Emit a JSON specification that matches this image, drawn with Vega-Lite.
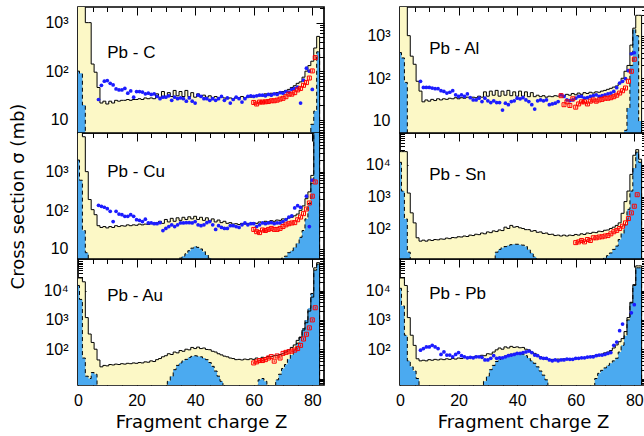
{
"$schema":"https://vega.github.io/schema/vega-lite/v6.json",
"padding":{"left":9,"top":5,"right":0,"bottom":0},
"config":{
 "view":{"stroke":"black","strokeWidth":1.7},
 "axis":{"grid":false,"domain":false,"tickColor":"black","tickWidth":1,"labelColor":"black","labelFont":"Liberation Sans","titleFont":"DejaVu Sans","titleColor":"black","titleFontWeight":"normal","labelFlush":false,"labelOverlap":false}
},
"datasets":{
"yC":[{"Z":0,"v":20000},{"Z":1,"v":20000},{"Z":2,"v":5000},{"Z":3,"v":1000},{"Z":4,"v":1000},{"Z":5,"v":140},{"Z":6,"v":95},{"Z":7,"v":46},{"Z":8,"v":22},{"Z":9,"v":24},{"Z":10,"v":21},{"Z":11,"v":24},{"Z":12,"v":22},{"Z":13,"v":25},{"Z":14,"v":24},{"Z":15,"v":25},{"Z":16,"v":25},{"Z":17,"v":26},{"Z":18,"v":25},{"Z":19,"v":26},{"Z":20,"v":26},{"Z":21,"v":27},{"Z":22,"v":26},{"Z":23,"v":28},{"Z":24,"v":27},{"Z":25,"v":28},{"Z":26,"v":27},{"Z":27,"v":34},{"Z":28,"v":29},{"Z":29,"v":38},{"Z":30,"v":30},{"Z":31,"v":36},{"Z":32,"v":30},{"Z":33,"v":40},{"Z":34,"v":31},{"Z":35,"v":38},{"Z":36,"v":30},{"Z":37,"v":40},{"Z":38,"v":30},{"Z":39,"v":36},{"Z":40,"v":29},{"Z":41,"v":34},{"Z":42,"v":30},{"Z":43,"v":32},{"Z":44,"v":29},{"Z":45,"v":31},{"Z":46,"v":28},{"Z":47,"v":30},{"Z":48,"v":28},{"Z":49,"v":29},{"Z":50,"v":28},{"Z":51,"v":27},{"Z":52,"v":28},{"Z":53,"v":27},{"Z":54,"v":29},{"Z":55,"v":28},{"Z":56,"v":30},{"Z":57,"v":28},{"Z":58,"v":30},{"Z":59,"v":29},{"Z":60,"v":31},{"Z":61,"v":30},{"Z":62,"v":33},{"Z":63,"v":31},{"Z":64,"v":34},{"Z":65,"v":32},{"Z":66,"v":35},{"Z":67,"v":34},{"Z":68,"v":36},{"Z":69,"v":35},{"Z":70,"v":38},{"Z":71,"v":40},{"Z":72,"v":42},{"Z":73,"v":46},{"Z":74,"v":50},{"Z":75,"v":56},{"Z":76,"v":60},{"Z":77,"v":75},{"Z":78,"v":100},{"Z":79,"v":130},{"Z":80,"v":160},{"Z":81,"v":300},{"Z":82,"v":520},{"Z":83,"v":0.01}],
"yAl":[{"Z":0,"v":20000},{"Z":1,"v":20000},{"Z":2,"v":6000},{"Z":3,"v":1000},{"Z":4,"v":330},{"Z":5,"v":213},{"Z":6,"v":85},{"Z":7,"v":50},{"Z":8,"v":28},{"Z":9,"v":31},{"Z":10,"v":29},{"Z":11,"v":32},{"Z":12,"v":30},{"Z":13,"v":33},{"Z":14,"v":31},{"Z":15,"v":33},{"Z":16,"v":32},{"Z":17,"v":34},{"Z":18,"v":33},{"Z":19,"v":35},{"Z":20,"v":33},{"Z":21,"v":35},{"Z":22,"v":34},{"Z":23,"v":36},{"Z":24,"v":35},{"Z":25,"v":36},{"Z":26,"v":35},{"Z":27,"v":38},{"Z":28,"v":36},{"Z":29,"v":48},{"Z":30,"v":38},{"Z":31,"v":50},{"Z":32,"v":40},{"Z":33,"v":52},{"Z":34,"v":38},{"Z":35,"v":50},{"Z":36,"v":40},{"Z":37,"v":52},{"Z":38,"v":39},{"Z":39,"v":48},{"Z":40,"v":38},{"Z":41,"v":50},{"Z":42,"v":38},{"Z":43,"v":48},{"Z":44,"v":37},{"Z":45,"v":46},{"Z":46,"v":37},{"Z":47,"v":40},{"Z":48,"v":37},{"Z":49,"v":39},{"Z":50,"v":36},{"Z":51,"v":38},{"Z":52,"v":37},{"Z":53,"v":39},{"Z":54,"v":38},{"Z":55,"v":40},{"Z":56,"v":39},{"Z":57,"v":42},{"Z":58,"v":40},{"Z":59,"v":44},{"Z":60,"v":41},{"Z":61,"v":45},{"Z":62,"v":42},{"Z":63,"v":46},{"Z":64,"v":44},{"Z":65,"v":47},{"Z":66,"v":45},{"Z":67,"v":48},{"Z":68,"v":47},{"Z":69,"v":50},{"Z":70,"v":52},{"Z":71,"v":55},{"Z":72,"v":58},{"Z":73,"v":62},{"Z":74,"v":66},{"Z":75,"v":77},{"Z":76,"v":100},{"Z":77,"v":146},{"Z":78,"v":200},{"Z":79,"v":600},{"Z":80,"v":1500},{"Z":81,"v":3000},{"Z":82,"v":3000},{"Z":83,"v":0.01}],
"yCu":[{"Z":0,"v":20000},{"Z":1,"v":20000},{"Z":2,"v":8000},{"Z":3,"v":1000},{"Z":4,"v":190},{"Z":5,"v":104},{"Z":6,"v":77},{"Z":7,"v":40},{"Z":8,"v":36},{"Z":9,"v":38},{"Z":10,"v":35},{"Z":11,"v":38},{"Z":12,"v":36},{"Z":13,"v":40},{"Z":14,"v":38},{"Z":15,"v":40},{"Z":16,"v":39},{"Z":17,"v":42},{"Z":18,"v":40},{"Z":19,"v":42},{"Z":20,"v":41},{"Z":21,"v":44},{"Z":22,"v":42},{"Z":23,"v":44},{"Z":24,"v":43},{"Z":25,"v":46},{"Z":26,"v":44},{"Z":27,"v":48},{"Z":28,"v":52},{"Z":29,"v":46},{"Z":30,"v":58},{"Z":31,"v":50},{"Z":32,"v":62},{"Z":33,"v":52},{"Z":34,"v":64},{"Z":35,"v":55},{"Z":36,"v":66},{"Z":37,"v":58},{"Z":38,"v":68},{"Z":39,"v":60},{"Z":40,"v":70},{"Z":41,"v":58},{"Z":42,"v":66},{"Z":43,"v":55},{"Z":44,"v":64},{"Z":45,"v":52},{"Z":46,"v":60},{"Z":47,"v":50},{"Z":48,"v":56},{"Z":49,"v":48},{"Z":50,"v":52},{"Z":51,"v":46},{"Z":52,"v":48},{"Z":53,"v":44},{"Z":54,"v":45},{"Z":55,"v":43},{"Z":56,"v":46},{"Z":57,"v":44},{"Z":58,"v":46},{"Z":59,"v":45},{"Z":60,"v":48},{"Z":61,"v":46},{"Z":62,"v":50},{"Z":63,"v":47},{"Z":64,"v":52},{"Z":65,"v":50},{"Z":66,"v":54},{"Z":67,"v":52},{"Z":68,"v":56},{"Z":69,"v":55},{"Z":70,"v":60},{"Z":71,"v":58},{"Z":72,"v":64},{"Z":73,"v":66},{"Z":74,"v":72},{"Z":75,"v":80},{"Z":76,"v":100},{"Z":77,"v":130},{"Z":78,"v":200},{"Z":79,"v":300},{"Z":80,"v":800},{"Z":81,"v":30000},{"Z":82,"v":30000},{"Z":83,"v":0.01}],
"ySn":[{"Z":0,"v":26000},{"Z":1,"v":26000},{"Z":2,"v":26000},{"Z":3,"v":1300},{"Z":4,"v":310},{"Z":5,"v":150},{"Z":6,"v":51},{"Z":7,"v":40},{"Z":8,"v":43},{"Z":9,"v":40},{"Z":10,"v":44},{"Z":11,"v":42},{"Z":12,"v":45},{"Z":13,"v":44},{"Z":14,"v":47},{"Z":15,"v":46},{"Z":16,"v":50},{"Z":17,"v":48},{"Z":18,"v":52},{"Z":19,"v":51},{"Z":20,"v":55},{"Z":21,"v":54},{"Z":22,"v":58},{"Z":23,"v":56},{"Z":24,"v":62},{"Z":25,"v":60},{"Z":26,"v":66},{"Z":27,"v":64},{"Z":28,"v":72},{"Z":29,"v":68},{"Z":30,"v":78},{"Z":31,"v":74},{"Z":32,"v":84},{"Z":33,"v":80},{"Z":34,"v":90},{"Z":35,"v":86},{"Z":36,"v":110},{"Z":37,"v":100},{"Z":38,"v":125},{"Z":39,"v":110},{"Z":40,"v":115},{"Z":41,"v":105},{"Z":42,"v":100},{"Z":43,"v":92},{"Z":44,"v":92},{"Z":45,"v":82},{"Z":46,"v":86},{"Z":47,"v":76},{"Z":48,"v":78},{"Z":49,"v":70},{"Z":50,"v":72},{"Z":51,"v":65},{"Z":52,"v":66},{"Z":53,"v":60},{"Z":54,"v":62},{"Z":55,"v":58},{"Z":56,"v":62},{"Z":57,"v":58},{"Z":58,"v":62},{"Z":59,"v":60},{"Z":60,"v":65},{"Z":61,"v":62},{"Z":62,"v":68},{"Z":63,"v":65},{"Z":64,"v":72},{"Z":65,"v":70},{"Z":66,"v":76},{"Z":67,"v":74},{"Z":68,"v":82},{"Z":69,"v":80},{"Z":70,"v":88},{"Z":71,"v":90},{"Z":72,"v":100},{"Z":73,"v":110},{"Z":74,"v":125},{"Z":75,"v":150},{"Z":76,"v":300},{"Z":77,"v":700},{"Z":78,"v":1500},{"Z":79,"v":5000},{"Z":80,"v":20000},{"Z":81,"v":30000},{"Z":82,"v":15000},{"Z":83,"v":0.01}],
"yAu":[{"Z":0,"v":27000},{"Z":1,"v":27000},{"Z":2,"v":20000},{"Z":3,"v":1200},{"Z":4,"v":330},{"Z":5,"v":170},{"Z":6,"v":100},{"Z":7,"v":43},{"Z":8,"v":25},{"Z":9,"v":28},{"Z":10,"v":27},{"Z":11,"v":30},{"Z":12,"v":29},{"Z":13,"v":31},{"Z":14,"v":30},{"Z":15,"v":32},{"Z":16,"v":31},{"Z":17,"v":33},{"Z":18,"v":32},{"Z":19,"v":34},{"Z":20,"v":33},{"Z":21,"v":35},{"Z":22,"v":34},{"Z":23,"v":37},{"Z":24,"v":36},{"Z":25,"v":40},{"Z":26,"v":38},{"Z":27,"v":44},{"Z":28,"v":48},{"Z":29,"v":55},{"Z":30,"v":60},{"Z":31,"v":70},{"Z":32,"v":66},{"Z":33,"v":80},{"Z":34,"v":75},{"Z":35,"v":90},{"Z":36,"v":85},{"Z":37,"v":100},{"Z":38,"v":95},{"Z":39,"v":115},{"Z":40,"v":105},{"Z":41,"v":118},{"Z":42,"v":105},{"Z":43,"v":110},{"Z":44,"v":98},{"Z":45,"v":96},{"Z":46,"v":85},{"Z":47,"v":80},{"Z":48,"v":70},{"Z":49,"v":64},{"Z":50,"v":58},{"Z":51,"v":55},{"Z":52,"v":50},{"Z":53,"v":48},{"Z":54,"v":44},{"Z":55,"v":45},{"Z":56,"v":43},{"Z":57,"v":46},{"Z":58,"v":44},{"Z":59,"v":47},{"Z":60,"v":45},{"Z":61,"v":50},{"Z":62,"v":48},{"Z":63,"v":53},{"Z":64,"v":52},{"Z":65,"v":57},{"Z":66,"v":56},{"Z":67,"v":60},{"Z":68,"v":62},{"Z":69,"v":66},{"Z":70,"v":70},{"Z":71,"v":80},{"Z":72,"v":95},{"Z":73,"v":115},{"Z":74,"v":140},{"Z":75,"v":200},{"Z":76,"v":260},{"Z":77,"v":450},{"Z":78,"v":800},{"Z":79,"v":2000},{"Z":80,"v":6000},{"Z":81,"v":60000},{"Z":82,"v":90000},{"Z":83,"v":0.01}],
"yPb":[{"Z":0,"v":27000},{"Z":1,"v":27000},{"Z":2,"v":15000},{"Z":3,"v":1200},{"Z":4,"v":300},{"Z":5,"v":135},{"Z":6,"v":47},{"Z":7,"v":40},{"Z":8,"v":42},{"Z":9,"v":40},{"Z":10,"v":44},{"Z":11,"v":42},{"Z":12,"v":45},{"Z":13,"v":43},{"Z":14,"v":46},{"Z":15,"v":44},{"Z":16,"v":47},{"Z":17,"v":45},{"Z":18,"v":48},{"Z":19,"v":46},{"Z":20,"v":50},{"Z":21,"v":48},{"Z":22,"v":52},{"Z":23,"v":50},{"Z":24,"v":55},{"Z":25,"v":53},{"Z":26,"v":58},{"Z":27,"v":56},{"Z":28,"v":62},{"Z":29,"v":60},{"Z":30,"v":70},{"Z":31,"v":68},{"Z":32,"v":80},{"Z":33,"v":95},{"Z":34,"v":110},{"Z":35,"v":100},{"Z":36,"v":120},{"Z":37,"v":110},{"Z":38,"v":125},{"Z":39,"v":115},{"Z":40,"v":120},{"Z":41,"v":112},{"Z":42,"v":115},{"Z":43,"v":100},{"Z":44,"v":95},{"Z":45,"v":80},{"Z":46,"v":72},{"Z":47,"v":60},{"Z":48,"v":55},{"Z":49,"v":50},{"Z":50,"v":45},{"Z":51,"v":44},{"Z":52,"v":45},{"Z":53,"v":43},{"Z":54,"v":46},{"Z":55,"v":44},{"Z":56,"v":47},{"Z":57,"v":45},{"Z":58,"v":48},{"Z":59,"v":46},{"Z":60,"v":49},{"Z":61,"v":48},{"Z":62,"v":52},{"Z":63,"v":50},{"Z":64,"v":55},{"Z":65,"v":54},{"Z":66,"v":60},{"Z":67,"v":58},{"Z":68,"v":65},{"Z":69,"v":68},{"Z":70,"v":75},{"Z":71,"v":80},{"Z":72,"v":90},{"Z":73,"v":110},{"Z":74,"v":140},{"Z":75,"v":180},{"Z":76,"v":230},{"Z":77,"v":400},{"Z":78,"v":1200},{"Z":79,"v":4000},{"Z":80,"v":16000},{"Z":81,"v":70000},{"Z":82,"v":70000},{"Z":83,"v":0.01}],
"bC":[{"Z":0,"v":100},{"Z":1,"v":90},{"Z":2,"v":20},{"Z":3,"v":0.01},{"Z":79,"v":0.01},{"Z":80,"v":8},{"Z":81,"v":15},{"Z":82,"v":250},{"Z":83,"v":0.01}],
"bAl":[{"Z":0,"v":400},{"Z":1,"v":300},{"Z":2,"v":80},{"Z":3,"v":0.01},{"Z":76,"v":0.01},{"Z":77,"v":6},{"Z":78,"v":20},{"Z":79,"v":200},{"Z":80,"v":1400},{"Z":81,"v":1000},{"Z":82,"v":10},{"Z":83,"v":0.01}],
"bCu":[{"Z":0,"v":2000},{"Z":1,"v":600},{"Z":2,"v":30},{"Z":3,"v":8},{"Z":4,"v":0.01},{"Z":34,"v":0.01},{"Z":35,"v":5.8},{"Z":36,"v":6.5},{"Z":37,"v":7.5},{"Z":38,"v":9},{"Z":39,"v":10.5},{"Z":40,"v":11.5},{"Z":41,"v":11},{"Z":42,"v":10},{"Z":43,"v":8.5},{"Z":44,"v":7},{"Z":45,"v":5.8},{"Z":46,"v":0.01},{"Z":69,"v":0.01},{"Z":70,"v":5.8},{"Z":71,"v":6.5},{"Z":72,"v":8},{"Z":73,"v":9},{"Z":74,"v":11},{"Z":75,"v":14},{"Z":76,"v":20},{"Z":77,"v":30},{"Z":78,"v":60},{"Z":79,"v":150},{"Z":80,"v":500},{"Z":81,"v":20000},{"Z":82,"v":20000},{"Z":83,"v":0.01}],
"bSn":[{"Z":0,"v":12000},{"Z":1,"v":1500},{"Z":2,"v":200},{"Z":3,"v":18},{"Z":4,"v":0.01},{"Z":32,"v":0.01},{"Z":33,"v":18},{"Z":34,"v":22},{"Z":35,"v":25},{"Z":36,"v":27},{"Z":37,"v":29},{"Z":38,"v":31},{"Z":39,"v":32},{"Z":40,"v":32},{"Z":41,"v":31},{"Z":42,"v":30},{"Z":43,"v":27},{"Z":44,"v":22},{"Z":45,"v":17},{"Z":46,"v":13},{"Z":47,"v":0.01},{"Z":69,"v":0.01},{"Z":70,"v":12},{"Z":71,"v":14},{"Z":72,"v":17},{"Z":73,"v":22},{"Z":74,"v":28},{"Z":75,"v":45},{"Z":76,"v":70},{"Z":77,"v":130},{"Z":78,"v":400},{"Z":79,"v":1500},{"Z":80,"v":8000},{"Z":81,"v":25000},{"Z":82,"v":12000},{"Z":83,"v":0.01}],
"bAu":[{"Z":0,"v":15000},{"Z":1,"v":5000},{"Z":2,"v":50},{"Z":3,"v":12},{"Z":4,"v":10},{"Z":5,"v":16},{"Z":6,"v":14},{"Z":7,"v":0.01},{"Z":30,"v":0.01},{"Z":31,"v":8},{"Z":32,"v":12},{"Z":33,"v":20},{"Z":34,"v":28},{"Z":35,"v":34},{"Z":36,"v":40},{"Z":37,"v":45},{"Z":38,"v":52},{"Z":39,"v":57},{"Z":40,"v":60},{"Z":41,"v":58},{"Z":42,"v":55},{"Z":43,"v":50},{"Z":44,"v":44},{"Z":45,"v":35},{"Z":46,"v":26},{"Z":47,"v":18},{"Z":48,"v":12},{"Z":49,"v":8},{"Z":50,"v":0.01},{"Z":61,"v":0.01},{"Z":62,"v":9},{"Z":63,"v":10},{"Z":64,"v":8},{"Z":65,"v":0.01},{"Z":67,"v":0.01},{"Z":68,"v":9},{"Z":69,"v":14},{"Z":70,"v":22},{"Z":71,"v":30},{"Z":72,"v":45},{"Z":73,"v":64},{"Z":74,"v":100},{"Z":75,"v":160},{"Z":76,"v":250},{"Z":77,"v":500},{"Z":78,"v":1000},{"Z":79,"v":2500},{"Z":80,"v":8000},{"Z":81,"v":50000},{"Z":82,"v":80000},{"Z":83,"v":0.01}],
"bPb":[{"Z":0,"v":12000},{"Z":1,"v":3000},{"Z":2,"v":300},{"Z":3,"v":40},{"Z":4,"v":25},{"Z":5,"v":18},{"Z":6,"v":10},{"Z":7,"v":0.01},{"Z":28,"v":0.01},{"Z":29,"v":8},{"Z":30,"v":12},{"Z":31,"v":20},{"Z":32,"v":28},{"Z":33,"v":38},{"Z":34,"v":45},{"Z":35,"v":52},{"Z":36,"v":58},{"Z":37,"v":63},{"Z":38,"v":68},{"Z":39,"v":72},{"Z":40,"v":74},{"Z":41,"v":72},{"Z":42,"v":68},{"Z":43,"v":60},{"Z":44,"v":50},{"Z":45,"v":40},{"Z":46,"v":33},{"Z":47,"v":25},{"Z":48,"v":18},{"Z":49,"v":13},{"Z":50,"v":9},{"Z":51,"v":0.01},{"Z":66,"v":0.01},{"Z":67,"v":10},{"Z":68,"v":15},{"Z":69,"v":19},{"Z":70,"v":23},{"Z":71,"v":28},{"Z":72,"v":33},{"Z":73,"v":40},{"Z":74,"v":49},{"Z":75,"v":80},{"Z":76,"v":136},{"Z":77,"v":290},{"Z":78,"v":1000},{"Z":79,"v":3800},{"Z":80,"v":15000},{"Z":81,"v":60000},{"Z":82,"v":60000},{"Z":83,"v":0.01}],
"dC":[{"Z":7,"v":26},{"Z":8,"v":51},{"Z":9,"v":62},{"Z":10,"v":64},{"Z":11,"v":56},{"Z":12,"v":52},{"Z":13,"v":43},{"Z":14,"v":41},{"Z":15,"v":41},{"Z":16,"v":44},{"Z":17,"v":35},{"Z":18,"v":39},{"Z":19,"v":29},{"Z":20,"v":38},{"Z":21,"v":38},{"Z":22,"v":37},{"Z":23,"v":34},{"Z":24,"v":35},{"Z":25,"v":33},{"Z":26,"v":34},{"Z":27,"v":30},{"Z":28,"v":27},{"Z":29,"v":29},{"Z":30,"v":29},{"Z":31,"v":31},{"Z":32,"v":25},{"Z":33,"v":29},{"Z":34,"v":27},{"Z":35,"v":28},{"Z":36,"v":27},{"Z":37,"v":24},{"Z":38,"v":28},{"Z":39,"v":24},{"Z":40,"v":22},{"Z":41,"v":32},{"Z":42,"v":30},{"Z":43,"v":27},{"Z":44,"v":27},{"Z":45,"v":25},{"Z":46,"v":27},{"Z":47,"v":25},{"Z":48,"v":27},{"Z":49,"v":30},{"Z":50,"v":25},{"Z":51,"v":28},{"Z":52,"v":22},{"Z":53,"v":26},{"Z":54,"v":29},{"Z":55,"v":27},{"Z":56,"v":23},{"Z":57,"v":27},{"Z":58,"v":30},{"Z":59,"v":31},{"Z":60,"v":30},{"Z":61,"v":31},{"Z":62,"v":32},{"Z":63,"v":32},{"Z":64,"v":31},{"Z":65,"v":33},{"Z":66,"v":32},{"Z":67,"v":34},{"Z":68,"v":33},{"Z":69,"v":36},{"Z":70,"v":35},{"Z":71,"v":38},{"Z":72,"v":37},{"Z":73,"v":42},{"Z":74,"v":44},{"Z":75,"v":47},{"Z":76,"v":22},{"Z":77,"v":65},{"Z":78,"v":115},{"Z":79,"v":100},{"Z":80,"v":42}],
"dAl":[{"Z":7,"v":85},{"Z":8,"v":61},{"Z":9,"v":61},{"Z":10,"v":61},{"Z":11,"v":59},{"Z":12,"v":57},{"Z":13,"v":57},{"Z":14,"v":51},{"Z":15,"v":49},{"Z":16,"v":45},{"Z":17,"v":47},{"Z":18,"v":51},{"Z":19,"v":41},{"Z":20,"v":37.5},{"Z":21,"v":41},{"Z":22,"v":37.5},{"Z":23,"v":43},{"Z":24,"v":35},{"Z":25,"v":31},{"Z":26,"v":31},{"Z":27,"v":34},{"Z":28,"v":28.5},{"Z":29,"v":34},{"Z":30,"v":29.6},{"Z":31,"v":27},{"Z":32,"v":29.6},{"Z":33,"v":27},{"Z":34,"v":27},{"Z":35,"v":18},{"Z":36,"v":26},{"Z":37,"v":24},{"Z":38,"v":28.5},{"Z":39,"v":29.6},{"Z":40,"v":34},{"Z":41,"v":33},{"Z":42,"v":35},{"Z":43,"v":31},{"Z":44,"v":28.5},{"Z":45,"v":24},{"Z":46,"v":19},{"Z":47,"v":29.6},{"Z":48,"v":31},{"Z":49,"v":29.6},{"Z":50,"v":31},{"Z":51,"v":24},{"Z":52,"v":25},{"Z":53,"v":26},{"Z":54,"v":28.5},{"Z":55,"v":41},{"Z":56,"v":37.5},{"Z":57,"v":31},{"Z":58,"v":30},{"Z":59,"v":31},{"Z":60,"v":34},{"Z":61,"v":37.5},{"Z":62,"v":37.5},{"Z":63,"v":34},{"Z":64,"v":35},{"Z":65,"v":37.5},{"Z":66,"v":39},{"Z":67,"v":41},{"Z":68,"v":37.5},{"Z":69,"v":39},{"Z":70,"v":41},{"Z":71,"v":43},{"Z":72,"v":45},{"Z":73,"v":49},{"Z":74,"v":60},{"Z":75,"v":77},{"Z":76,"v":85},{"Z":77,"v":98},{"Z":78,"v":151},{"Z":79,"v":375},{"Z":80,"v":397}],
"dCu":[{"Z":7,"v":135},{"Z":8,"v":127},{"Z":9,"v":120},{"Z":10,"v":110},{"Z":11,"v":94},{"Z":12,"v":51},{"Z":13,"v":94},{"Z":14,"v":80},{"Z":15,"v":77},{"Z":16,"v":70},{"Z":17,"v":70},{"Z":18,"v":77},{"Z":19,"v":70},{"Z":20,"v":57},{"Z":21,"v":55},{"Z":22,"v":51},{"Z":23,"v":59},{"Z":24,"v":47},{"Z":25,"v":47},{"Z":26,"v":45},{"Z":27,"v":45},{"Z":28,"v":48},{"Z":29,"v":30},{"Z":30,"v":34},{"Z":31,"v":38},{"Z":32,"v":42},{"Z":33,"v":38},{"Z":34,"v":42},{"Z":35,"v":47},{"Z":36,"v":47},{"Z":37,"v":48},{"Z":38,"v":48},{"Z":39,"v":47},{"Z":40,"v":51},{"Z":41,"v":42},{"Z":42,"v":40},{"Z":43,"v":42},{"Z":44,"v":48},{"Z":45,"v":51},{"Z":46,"v":42},{"Z":47,"v":32},{"Z":48,"v":40},{"Z":49,"v":36},{"Z":50,"v":34},{"Z":51,"v":34},{"Z":52,"v":40},{"Z":53,"v":40},{"Z":54,"v":38},{"Z":55,"v":36},{"Z":56,"v":42},{"Z":57,"v":47},{"Z":58,"v":42},{"Z":59,"v":45},{"Z":60,"v":45},{"Z":61,"v":38},{"Z":62,"v":42},{"Z":63,"v":47},{"Z":64,"v":45},{"Z":65,"v":47},{"Z":66,"v":48},{"Z":67,"v":45},{"Z":68,"v":47},{"Z":69,"v":47},{"Z":70,"v":51},{"Z":71,"v":57},{"Z":72,"v":67},{"Z":73,"v":72},{"Z":74,"v":115},{"Z":75,"v":132},{"Z":76,"v":120},{"Z":78,"v":232},{"Z":79,"v":38},{"Z":80,"v":600}],
"dPb":[{"Z":7,"v":93},{"Z":8,"v":105},{"Z":9,"v":120},{"Z":10,"v":120},{"Z":11,"v":136},{"Z":12,"v":120},{"Z":13,"v":105},{"Z":14,"v":66},{"Z":15,"v":81},{"Z":16,"v":63},{"Z":17,"v":63},{"Z":18,"v":55},{"Z":19,"v":66},{"Z":20,"v":77},{"Z":21,"v":60},{"Z":22,"v":55},{"Z":23,"v":51},{"Z":24,"v":53},{"Z":25,"v":51},{"Z":26,"v":55},{"Z":27,"v":55},{"Z":28,"v":53},{"Z":29,"v":43},{"Z":30,"v":43},{"Z":31,"v":49},{"Z":32,"v":60},{"Z":33,"v":49},{"Z":34,"v":51},{"Z":35,"v":51},{"Z":36,"v":55},{"Z":37,"v":60},{"Z":38,"v":63},{"Z":39,"v":66},{"Z":40,"v":72},{"Z":41,"v":72},{"Z":42,"v":77},{"Z":43,"v":81},{"Z":44,"v":86},{"Z":45,"v":77},{"Z":46,"v":63},{"Z":47,"v":60},{"Z":48,"v":51},{"Z":49,"v":49},{"Z":50,"v":49},{"Z":51,"v":43},{"Z":52,"v":40},{"Z":53,"v":43},{"Z":54,"v":40},{"Z":55,"v":43},{"Z":56,"v":43},{"Z":57,"v":46},{"Z":58,"v":45},{"Z":59,"v":45},{"Z":60,"v":49},{"Z":61,"v":49},{"Z":62,"v":51},{"Z":63,"v":51},{"Z":64,"v":54},{"Z":65,"v":55},{"Z":66,"v":55},{"Z":67,"v":60},{"Z":68,"v":63},{"Z":69,"v":63},{"Z":70,"v":66},{"Z":71,"v":72},{"Z":72,"v":77},{"Z":73,"v":136},{"Z":74,"v":176},{"Z":75,"v":430},{"Z":76,"v":720},{"Z":79,"v":1750},{"Z":80,"v":3300}],
"rC":[{"Z":60,"v":22.6,"lo":20.8,"hi":24.4},{"Z":61,"v":21,"lo":19.3,"hi":22.7},{"Z":62,"v":23,"lo":21.2,"hi":24.8},{"Z":63,"v":23,"lo":21.2,"hi":24.8},{"Z":64,"v":23.3,"lo":21.4,"hi":25.2},{"Z":65,"v":23.6,"lo":21.7,"hi":25.5},{"Z":66,"v":24.5,"lo":22.5,"hi":26.5},{"Z":67,"v":24.5,"lo":22.5,"hi":26.5},{"Z":68,"v":25.2,"lo":23.2,"hi":27.2},{"Z":69,"v":26.5,"lo":24.4,"hi":28.6},{"Z":70,"v":27.5,"lo":25.3,"hi":29.7},{"Z":71,"v":29.7,"lo":27.3,"hi":32.1},{"Z":72,"v":33.5,"lo":30.8,"hi":36.2},{"Z":73,"v":33.5,"lo":30.8,"hi":36.2},{"Z":74,"v":36,"lo":33.1,"hi":38.9},{"Z":75,"v":41,"lo":37.7,"hi":44.3},{"Z":76,"v":44,"lo":40.5,"hi":47.5},{"Z":77,"v":51,"lo":46.9,"hi":55.1},{"Z":78,"v":58,"lo":53.4,"hi":62.6},{"Z":79,"v":72,"lo":66.2,"hi":77.8},{"Z":80,"v":101,"lo":92.9,"hi":109.1},{"Z":81,"v":190,"lo":174.8,"hi":205.2}],
"rAl":[{"Z":55,"v":39,"lo":35.9,"hi":42.1},{"Z":56,"v":24,"lo":22.1,"hi":25.9},{"Z":57,"v":28,"lo":25.8,"hi":30.2},{"Z":58,"v":23,"lo":21.2,"hi":24.8},{"Z":59,"v":33,"lo":30.4,"hi":35.6},{"Z":60,"v":21,"lo":19.3,"hi":22.7},{"Z":61,"v":25,"lo":23,"hi":27},{"Z":62,"v":28,"lo":25.8,"hi":30.2},{"Z":63,"v":28,"lo":25.8,"hi":30.2},{"Z":64,"v":25,"lo":23,"hi":27},{"Z":65,"v":29,"lo":26.7,"hi":31.3},{"Z":66,"v":31,"lo":28.5,"hi":33.5},{"Z":67,"v":29,"lo":26.7,"hi":31.3},{"Z":68,"v":31,"lo":28.5,"hi":33.5},{"Z":69,"v":32,"lo":29.4,"hi":34.6},{"Z":70,"v":34,"lo":31.3,"hi":36.7},{"Z":71,"v":34,"lo":31.3,"hi":36.7},{"Z":72,"v":35,"lo":32.2,"hi":37.8},{"Z":73,"v":37,"lo":34,"hi":40},{"Z":74,"v":40,"lo":36.8,"hi":43.2},{"Z":75,"v":45,"lo":41.4,"hi":48.6},{"Z":76,"v":51,"lo":46.9,"hi":55.1},{"Z":77,"v":59,"lo":54.3,"hi":63.7},{"Z":78,"v":85,"lo":78.2,"hi":91.8},{"Z":79,"v":146,"lo":134,"hi":158},{"Z":80,"v":280,"lo":258,"hi":302}],
"rCu":[{"Z":60,"v":32,"lo":29.4,"hi":34.6},{"Z":61,"v":28,"lo":25.8,"hi":30.2},{"Z":62,"v":26.5,"lo":24.4,"hi":28.6},{"Z":63,"v":31,"lo":28.5,"hi":33.5},{"Z":64,"v":30,"lo":27.6,"hi":32.4},{"Z":65,"v":32,"lo":29.4,"hi":34.6},{"Z":66,"v":34,"lo":31.3,"hi":36.7},{"Z":67,"v":32,"lo":29.4,"hi":34.6},{"Z":68,"v":32,"lo":29.4,"hi":34.6},{"Z":69,"v":34,"lo":31.3,"hi":36.7},{"Z":70,"v":38,"lo":35,"hi":41},{"Z":71,"v":42,"lo":38.6,"hi":45.4},{"Z":72,"v":45,"lo":41.4,"hi":48.6},{"Z":73,"v":47,"lo":43.2,"hi":50.8},{"Z":74,"v":48,"lo":44.2,"hi":51.8},{"Z":75,"v":57,"lo":52.4,"hi":61.6},{"Z":76,"v":67,"lo":61.6,"hi":72.4},{"Z":77,"v":82,"lo":75.4,"hi":88.6},{"Z":78,"v":108,"lo":99.4,"hi":116.6},{"Z":79,"v":155,"lo":142.6,"hi":167.4},{"Z":80,"v":232,"lo":213,"hi":251},{"Z":81,"v":540,"lo":497,"hi":583}],
"rSn":[{"Z":60,"v":36,"lo":33.1,"hi":38.9},{"Z":61,"v":38,"lo":35,"hi":41},{"Z":62,"v":42,"lo":38.6,"hi":45.4},{"Z":63,"v":38,"lo":35,"hi":41},{"Z":64,"v":45,"lo":41.4,"hi":48.6},{"Z":65,"v":42,"lo":38.6,"hi":45.4},{"Z":66,"v":51,"lo":46.9,"hi":55.1},{"Z":67,"v":51,"lo":46.9,"hi":55.1},{"Z":68,"v":54,"lo":49.7,"hi":58.3},{"Z":69,"v":55,"lo":50.6,"hi":59.4},{"Z":70,"v":58,"lo":53.4,"hi":62.6},{"Z":71,"v":60,"lo":55.2,"hi":64.8},{"Z":72,"v":68,"lo":62.6,"hi":73.4},{"Z":73,"v":79,"lo":72.7,"hi":85.3},{"Z":74,"v":87,"lo":80,"hi":94},{"Z":75,"v":100,"lo":92,"hi":108},{"Z":76,"v":118,"lo":108.6,"hi":127.4},{"Z":77,"v":150,"lo":138,"hi":162},{"Z":78,"v":205,"lo":188.6,"hi":221.4},{"Z":79,"v":309,"lo":284,"hi":334},{"Z":80,"v":500,"lo":460,"hi":540},{"Z":81,"v":1150,"lo":1058,"hi":1242}],
"rAu":[{"Z":60,"v":34,"lo":31.3,"hi":36.7},{"Z":61,"v":37,"lo":34,"hi":40},{"Z":62,"v":41,"lo":37.7,"hi":44.3},{"Z":63,"v":41,"lo":37.7,"hi":44.3},{"Z":64,"v":44,"lo":40.5,"hi":47.5},{"Z":65,"v":50,"lo":46,"hi":54},{"Z":66,"v":56,"lo":51.5,"hi":60.5},{"Z":67,"v":39,"lo":35.9,"hi":42.1},{"Z":68,"v":59,"lo":54.3,"hi":63.7},{"Z":69,"v":50,"lo":46,"hi":54},{"Z":70,"v":72,"lo":66.2,"hi":77.8},{"Z":71,"v":78,"lo":71.8,"hi":84.2},{"Z":72,"v":82,"lo":75.4,"hi":88.6},{"Z":73,"v":86,"lo":79.1,"hi":92.9},{"Z":74,"v":93,"lo":85.6,"hi":100.4},{"Z":75,"v":105,"lo":96.6,"hi":113.4},{"Z":76,"v":135,"lo":124.2,"hi":145.8},{"Z":77,"v":223,"lo":205,"hi":241},{"Z":78,"v":324,"lo":298,"hi":350},{"Z":79,"v":535,"lo":492,"hi":578},{"Z":80,"v":1000,"lo":920,"hi":1080},{"Z":81,"v":2600,"lo":2392,"hi":2808}],
"one":[{}]
},
"spacing":38,
"hconcat":[
{"spacing":0,"bounds":"flush","vconcat":[
{"width":246,"height":126,"resolve":{"axis":{"x":"independent","y":"independent"}},"layer":[
 {"data":{"name":"yC"},"mark":{"type":"area","interpolate":"step","fill":"#FCF8C6","clip":true},"encoding":{"x":{"field":"Z","type":"quantitative","scale":{"domain":[0,84],"nice":false},"axis":{"orient":"bottom","values":[0,20,40,60,80],"tickSize":-8,"labels":false,"title":null}},"y":{"field":"v","type":"quantitative","scale":{"type":"log","domain":[5.3,2100],"nice":false},"axis":{"orient":"left","values":[10,100,1000],"tickSize":-8,"labelPadding":18,"labelFontSize":16,"labelExpr":"datum.value==10?'10':datum.value==100?'10²':datum.value==1000?'10³':'10⁴'","title":null}},"y2":{"datum":0.01}}},
 {"data":{"name":"bC"},"mark":{"type":"area","interpolate":"step","fill":"#4BAAF0","clip":true},"encoding":{"x":{"field":"Z","type":"quantitative","scale":{"domain":[0,84],"nice":false},"axis":{"orient":"top","values":[0,20,40,60,80],"tickSize":-8,"labels":false,"title":null}},"y":{"field":"v","type":"quantitative","scale":{"type":"log","domain":[5.3,2100],"nice":false},"axis":{"orient":"right","values":[10,100,1000],"tickSize":-8,"labels":false,"title":null}},"y2":{"datum":0.01}}},
 {"data":{"name":"yC"},"mark":{"type":"line","interpolate":"step","stroke":"black","strokeWidth":1,"clip":true},"encoding":{"x":{"field":"Z","type":"quantitative","scale":{"domain":[0,84],"nice":false},"axis":{"orient":"bottom","values":[5,10,15,25,30,35,45,50,55,65,70,75],"tickSize":-4.5,"labels":false,"title":null}},"y":{"field":"v","type":"quantitative","scale":{"type":"log","domain":[5.3,2100],"nice":false},"axis":{"orient":"left","values":[6,7,8,9,20,30,40,50,60,70,80,90,200,300,400,500,600,700,800,900,2000],"tickSize":-4.5,"labels":false,"title":null}}}},
 {"data":{"name":"bC"},"mark":{"type":"line","interpolate":"step","stroke":"black","strokeWidth":1,"strokeDash":[4,3],"clip":true},"encoding":{"x":{"field":"Z","type":"quantitative","scale":{"domain":[0,84],"nice":false},"axis":{"orient":"top","values":[5,10,15,25,30,35,45,50,55,65,70,75],"tickSize":-4.5,"labels":false,"title":null}},"y":{"field":"v","type":"quantitative","scale":{"type":"log","domain":[5.3,2100],"nice":false},"axis":{"orient":"right","values":[6,7,8,9,20,30,40,50,60,70,80,90,200,300,400,500,600,700,800,900,2000],"tickSize":-4.5,"labels":false,"title":null}}}},
 {"data":{"name":"dC"},"mark":{"type":"point","shape":"circle","filled":true,"fill":"#1c1cff","size":14,"opacity":1,"clip":true},"encoding":{"x":{"field":"Z","type":"quantitative","scale":{"domain":[0,84],"nice":false},"axis":null},"y":{"field":"v","type":"quantitative","scale":{"type":"log","domain":[5.3,2100],"nice":false},"axis":null}}},
 {"data":{"name":"rC"},"mark":{"type":"rule","stroke":"#ff0000","strokeWidth":1},"encoding":{"x":{"field":"Z","type":"quantitative","scale":{"domain":[0,84],"nice":false},"axis":null},"y":{"field":"lo","type":"quantitative","scale":{"type":"log","domain":[5.3,2100],"nice":false},"axis":null},"y2":{"field":"hi"}}},
 {"data":{"name":"rC"},"mark":{"type":"point","shape":"square","filled":false,"stroke":"#ff0000","strokeWidth":1,"size":16,"opacity":1},"encoding":{"x":{"field":"Z","type":"quantitative","scale":{"domain":[0,84],"nice":false},"axis":null},"y":{"field":"v","type":"quantitative","scale":{"type":"log","domain":[5.3,2100],"nice":false},"axis":null}}},
 {"data":{"name":"one"},"mark":{"type":"text","align":"left","baseline":"middle","font":"Liberation Sans","fontSize":17,"color":"black"},"encoding":{"x":{"datum":10,"type":"quantitative","scale":{"domain":[0,84],"nice":false},"axis":null},"y":{"datum":240,"type":"quantitative","scale":{"type":"log","domain":[5.3,2100],"nice":false},"axis":null},"text":{"value":"Pb - C"}}}
]},
{"width":246,"height":126,"resolve":{"axis":{"x":"independent","y":"independent"}},"layer":[
 {"data":{"name":"yCu"},"mark":{"type":"area","interpolate":"step","fill":"#FCF8C6","clip":true},"encoding":{"x":{"field":"Z","type":"quantitative","scale":{"domain":[0,84],"nice":false},"axis":{"orient":"bottom","values":[0,20,40,60,80],"tickSize":-8,"labels":false,"title":null}},"y":{"field":"v","type":"quantitative","scale":{"type":"log","domain":[5.5,10000],"nice":false},"axis":{"orient":"left","values":[10,100,1000],"tickSize":-8,"labelPadding":18,"labelFontSize":16,"labelExpr":"datum.value==10?'10':datum.value==100?'10²':datum.value==1000?'10³':'10⁴'","title":"Cross section σ (mb)","titleFontSize":18,"titlePadding":17}},"y2":{"datum":0.01}}},
 {"data":{"name":"bCu"},"mark":{"type":"area","interpolate":"step","fill":"#4BAAF0","clip":true},"encoding":{"x":{"field":"Z","type":"quantitative","scale":{"domain":[0,84],"nice":false},"axis":{"orient":"top","values":[0,20,40,60,80],"tickSize":-8,"labels":false,"title":null}},"y":{"field":"v","type":"quantitative","scale":{"type":"log","domain":[5.5,10000],"nice":false},"axis":{"orient":"right","values":[10,100,1000],"tickSize":-8,"labels":false,"title":null}},"y2":{"datum":0.01}}},
 {"data":{"name":"yCu"},"mark":{"type":"line","interpolate":"step","stroke":"black","strokeWidth":1,"clip":true},"encoding":{"x":{"field":"Z","type":"quantitative","scale":{"domain":[0,84],"nice":false},"axis":{"orient":"bottom","values":[5,10,15,25,30,35,45,50,55,65,70,75],"tickSize":-4.5,"labels":false,"title":null}},"y":{"field":"v","type":"quantitative","scale":{"type":"log","domain":[5.5,10000],"nice":false},"axis":{"orient":"left","values":[6,7,8,9,20,30,40,50,60,70,80,90,200,300,400,500,600,700,800,900,2000,3000,4000,5000,6000,7000,8000,9000],"tickSize":-4.5,"labels":false,"title":null}}}},
 {"data":{"name":"bCu"},"mark":{"type":"line","interpolate":"step","stroke":"black","strokeWidth":1,"strokeDash":[4,3],"clip":true},"encoding":{"x":{"field":"Z","type":"quantitative","scale":{"domain":[0,84],"nice":false},"axis":{"orient":"top","values":[5,10,15,25,30,35,45,50,55,65,70,75],"tickSize":-4.5,"labels":false,"title":null}},"y":{"field":"v","type":"quantitative","scale":{"type":"log","domain":[5.5,10000],"nice":false},"axis":{"orient":"right","values":[6,7,8,9,20,30,40,50,60,70,80,90,200,300,400,500,600,700,800,900,2000,3000,4000,5000,6000,7000,8000,9000],"tickSize":-4.5,"labels":false,"title":null}}}},
 {"data":{"name":"dCu"},"mark":{"type":"point","shape":"circle","filled":true,"fill":"#1c1cff","size":14,"opacity":1,"clip":true},"encoding":{"x":{"field":"Z","type":"quantitative","scale":{"domain":[0,84],"nice":false},"axis":null},"y":{"field":"v","type":"quantitative","scale":{"type":"log","domain":[5.5,10000],"nice":false},"axis":null}}},
 {"data":{"name":"rCu"},"mark":{"type":"rule","stroke":"#ff0000","strokeWidth":1},"encoding":{"x":{"field":"Z","type":"quantitative","scale":{"domain":[0,84],"nice":false},"axis":null},"y":{"field":"lo","type":"quantitative","scale":{"type":"log","domain":[5.5,10000],"nice":false},"axis":null},"y2":{"field":"hi"}}},
 {"data":{"name":"rCu"},"mark":{"type":"point","shape":"square","filled":false,"stroke":"#ff0000","strokeWidth":1,"size":16,"opacity":1},"encoding":{"x":{"field":"Z","type":"quantitative","scale":{"domain":[0,84],"nice":false},"axis":null},"y":{"field":"v","type":"quantitative","scale":{"type":"log","domain":[5.5,10000],"nice":false},"axis":null}}},
 {"data":{"name":"one"},"mark":{"type":"text","align":"left","baseline":"middle","font":"Liberation Sans","fontSize":17,"color":"black"},"encoding":{"x":{"datum":10,"type":"quantitative","scale":{"domain":[0,84],"nice":false},"axis":null},"y":{"datum":1000,"type":"quantitative","scale":{"type":"log","domain":[5.5,10000],"nice":false},"axis":null},"text":{"value":"Pb - Cu"}}}
]},
{"width":246,"height":126,"resolve":{"axis":{"x":"independent","y":"independent"}},"layer":[
 {"data":{"name":"yAu"},"mark":{"type":"area","interpolate":"step","fill":"#FCF8C6","clip":true},"encoding":{"x":{"field":"Z","type":"quantitative","scale":{"domain":[0,84],"nice":false},"axis":{"orient":"bottom","values":[0,20,40,60,80],"tickSize":-8,"labelPadding":15,"labelFontSize":16,"title":"Fragment charge Z","titleFontSize":18,"titlePadding":5}},"y":{"field":"v","type":"quantitative","scale":{"type":"log","domain":[6,120000],"nice":false},"axis":{"orient":"left","values":[10,100,1000,10000],"tickSize":-8,"labelPadding":18,"labelFontSize":16,"labelExpr":"datum.value==10?'':datum.value==100?'10²':datum.value==1000?'10³':'10⁴'","title":null}},"y2":{"datum":0.01}}},
 {"data":{"name":"bAu"},"mark":{"type":"area","interpolate":"step","fill":"#4BAAF0","clip":true},"encoding":{"x":{"field":"Z","type":"quantitative","scale":{"domain":[0,84],"nice":false},"axis":{"orient":"top","values":[0,20,40,60,80],"tickSize":-8,"labels":false,"title":null}},"y":{"field":"v","type":"quantitative","scale":{"type":"log","domain":[6,120000],"nice":false},"axis":{"orient":"right","values":[10,100,1000,10000],"tickSize":-8,"labels":false,"title":null}},"y2":{"datum":0.01}}},
 {"data":{"name":"yAu"},"mark":{"type":"line","interpolate":"step","stroke":"black","strokeWidth":1,"clip":true},"encoding":{"x":{"field":"Z","type":"quantitative","scale":{"domain":[0,84],"nice":false},"axis":{"orient":"bottom","values":[5,10,15,25,30,35,45,50,55,65,70,75],"tickSize":-4.5,"labels":false,"title":null}},"y":{"field":"v","type":"quantitative","scale":{"type":"log","domain":[6,120000],"nice":false},"axis":{"orient":"left","values":[7,8,9,20,30,40,50,60,70,80,90,200,300,400,500,600,700,800,900,2000,3000,4000,5000,6000,7000,8000,9000,20000,30000,40000,50000,60000,70000,80000,90000,100000],"tickSize":-4.5,"labels":false,"title":null}}}},
 {"data":{"name":"bAu"},"mark":{"type":"line","interpolate":"step","stroke":"black","strokeWidth":1,"strokeDash":[4,3],"clip":true},"encoding":{"x":{"field":"Z","type":"quantitative","scale":{"domain":[0,84],"nice":false},"axis":{"orient":"top","values":[5,10,15,25,30,35,45,50,55,65,70,75],"tickSize":-4.5,"labels":false,"title":null}},"y":{"field":"v","type":"quantitative","scale":{"type":"log","domain":[6,120000],"nice":false},"axis":{"orient":"right","values":[7,8,9,20,30,40,50,60,70,80,90,200,300,400,500,600,700,800,900,2000,3000,4000,5000,6000,7000,8000,9000,20000,30000,40000,50000,60000,70000,80000,90000,100000],"tickSize":-4.5,"labels":false,"title":null}}}},
 {"data":{"name":"rAu"},"mark":{"type":"rule","stroke":"#ff0000","strokeWidth":1},"encoding":{"x":{"field":"Z","type":"quantitative","scale":{"domain":[0,84],"nice":false},"axis":null},"y":{"field":"lo","type":"quantitative","scale":{"type":"log","domain":[6,120000],"nice":false},"axis":null},"y2":{"field":"hi"}}},
 {"data":{"name":"rAu"},"mark":{"type":"point","shape":"square","filled":false,"stroke":"#ff0000","strokeWidth":1,"size":16,"opacity":1},"encoding":{"x":{"field":"Z","type":"quantitative","scale":{"domain":[0,84],"nice":false},"axis":null},"y":{"field":"v","type":"quantitative","scale":{"type":"log","domain":[6,120000],"nice":false},"axis":null}}},
 {"data":{"name":"one"},"mark":{"type":"text","align":"left","baseline":"middle","font":"Liberation Sans","fontSize":17,"color":"black"},"encoding":{"x":{"datum":10,"type":"quantitative","scale":{"domain":[0,84],"nice":false},"axis":null},"y":{"datum":6600,"type":"quantitative","scale":{"type":"log","domain":[6,120000],"nice":false},"axis":null},"text":{"value":"Pb - Au"}}}
]}
]},
{"spacing":0,"bounds":"flush","vconcat":[
{"width":246,"height":126,"resolve":{"axis":{"x":"independent","y":"independent"}},"layer":[
 {"data":{"name":"yAl"},"mark":{"type":"area","interpolate":"step","fill":"#FCF8C6","clip":true},"encoding":{"x":{"field":"Z","type":"quantitative","scale":{"domain":[0,84],"nice":false},"axis":{"orient":"bottom","values":[0,20,40,60,80],"tickSize":-8,"labels":false,"title":null}},"y":{"field":"v","type":"quantitative","scale":{"type":"log","domain":[5.2,4700],"nice":false},"axis":{"orient":"left","values":[10,100,1000],"tickSize":-8,"labelPadding":18,"labelFontSize":16,"labelExpr":"datum.value==10?'10':datum.value==100?'10²':datum.value==1000?'10³':'10⁴'","title":null}},"y2":{"datum":0.01}}},
 {"data":{"name":"bAl"},"mark":{"type":"area","interpolate":"step","fill":"#4BAAF0","clip":true},"encoding":{"x":{"field":"Z","type":"quantitative","scale":{"domain":[0,84],"nice":false},"axis":{"orient":"top","values":[0,20,40,60,80],"tickSize":-8,"labels":false,"title":null}},"y":{"field":"v","type":"quantitative","scale":{"type":"log","domain":[5.2,4700],"nice":false},"axis":{"orient":"right","values":[10,100,1000],"tickSize":-8,"labels":false,"title":null}},"y2":{"datum":0.01}}},
 {"data":{"name":"yAl"},"mark":{"type":"line","interpolate":"step","stroke":"black","strokeWidth":1,"clip":true},"encoding":{"x":{"field":"Z","type":"quantitative","scale":{"domain":[0,84],"nice":false},"axis":{"orient":"bottom","values":[5,10,15,25,30,35,45,50,55,65,70,75],"tickSize":-4.5,"labels":false,"title":null}},"y":{"field":"v","type":"quantitative","scale":{"type":"log","domain":[5.2,4700],"nice":false},"axis":{"orient":"left","values":[6,7,8,9,20,30,40,50,60,70,80,90,200,300,400,500,600,700,800,900,2000,3000,4000],"tickSize":-4.5,"labels":false,"title":null}}}},
 {"data":{"name":"bAl"},"mark":{"type":"line","interpolate":"step","stroke":"black","strokeWidth":1,"strokeDash":[4,3],"clip":true},"encoding":{"x":{"field":"Z","type":"quantitative","scale":{"domain":[0,84],"nice":false},"axis":{"orient":"top","values":[5,10,15,25,30,35,45,50,55,65,70,75],"tickSize":-4.5,"labels":false,"title":null}},"y":{"field":"v","type":"quantitative","scale":{"type":"log","domain":[5.2,4700],"nice":false},"axis":{"orient":"right","values":[6,7,8,9,20,30,40,50,60,70,80,90,200,300,400,500,600,700,800,900,2000,3000,4000],"tickSize":-4.5,"labels":false,"title":null}}}},
 {"data":{"name":"dAl"},"mark":{"type":"point","shape":"circle","filled":true,"fill":"#1c1cff","size":14,"opacity":1,"clip":true},"encoding":{"x":{"field":"Z","type":"quantitative","scale":{"domain":[0,84],"nice":false},"axis":null},"y":{"field":"v","type":"quantitative","scale":{"type":"log","domain":[5.2,4700],"nice":false},"axis":null}}},
 {"data":{"name":"rAl"},"mark":{"type":"rule","stroke":"#ff0000","strokeWidth":1},"encoding":{"x":{"field":"Z","type":"quantitative","scale":{"domain":[0,84],"nice":false},"axis":null},"y":{"field":"lo","type":"quantitative","scale":{"type":"log","domain":[5.2,4700],"nice":false},"axis":null},"y2":{"field":"hi"}}},
 {"data":{"name":"rAl"},"mark":{"type":"point","shape":"square","filled":false,"stroke":"#ff0000","strokeWidth":1,"size":16,"opacity":1},"encoding":{"x":{"field":"Z","type":"quantitative","scale":{"domain":[0,84],"nice":false},"axis":null},"y":{"field":"v","type":"quantitative","scale":{"type":"log","domain":[5.2,4700],"nice":false},"axis":null}}},
 {"data":{"name":"one"},"mark":{"type":"text","align":"left","baseline":"middle","font":"Liberation Sans","fontSize":17,"color":"black"},"encoding":{"x":{"datum":10,"type":"quantitative","scale":{"domain":[0,84],"nice":false},"axis":null},"y":{"datum":480,"type":"quantitative","scale":{"type":"log","domain":[5.2,4700],"nice":false},"axis":null},"text":{"value":"Pb - Al"}}}
]},
{"width":246,"height":126,"resolve":{"axis":{"x":"independent","y":"independent"}},"layer":[
 {"data":{"name":"ySn"},"mark":{"type":"area","interpolate":"step","fill":"#FCF8C6","clip":true},"encoding":{"x":{"field":"Z","type":"quantitative","scale":{"domain":[0,84],"nice":false},"axis":{"orient":"bottom","values":[0,20,40,60,80],"tickSize":-8,"labels":false,"title":null}},"y":{"field":"v","type":"quantitative","scale":{"type":"log","domain":[11,100000],"nice":false},"axis":{"orient":"left","values":[100,1000,10000],"tickSize":-8,"labelPadding":18,"labelFontSize":16,"labelExpr":"datum.value==10?'10':datum.value==100?'10²':datum.value==1000?'10³':'10⁴'","title":null}},"y2":{"datum":0.01}}},
 {"data":{"name":"bSn"},"mark":{"type":"area","interpolate":"step","fill":"#4BAAF0","clip":true},"encoding":{"x":{"field":"Z","type":"quantitative","scale":{"domain":[0,84],"nice":false},"axis":{"orient":"top","values":[0,20,40,60,80],"tickSize":-8,"labels":false,"title":null}},"y":{"field":"v","type":"quantitative","scale":{"type":"log","domain":[11,100000],"nice":false},"axis":{"orient":"right","values":[100,1000,10000],"tickSize":-8,"labels":false,"title":null}},"y2":{"datum":0.01}}},
 {"data":{"name":"ySn"},"mark":{"type":"line","interpolate":"step","stroke":"black","strokeWidth":1,"clip":true},"encoding":{"x":{"field":"Z","type":"quantitative","scale":{"domain":[0,84],"nice":false},"axis":{"orient":"bottom","values":[5,10,15,25,30,35,45,50,55,65,70,75],"tickSize":-4.5,"labels":false,"title":null}},"y":{"field":"v","type":"quantitative","scale":{"type":"log","domain":[11,100000],"nice":false},"axis":{"orient":"left","values":[20,30,40,50,60,70,80,90,200,300,400,500,600,700,800,900,2000,3000,4000,5000,6000,7000,8000,9000,20000,30000,40000,50000,60000,70000,80000,90000],"tickSize":-4.5,"labels":false,"title":null}}}},
 {"data":{"name":"bSn"},"mark":{"type":"line","interpolate":"step","stroke":"black","strokeWidth":1,"strokeDash":[4,3],"clip":true},"encoding":{"x":{"field":"Z","type":"quantitative","scale":{"domain":[0,84],"nice":false},"axis":{"orient":"top","values":[5,10,15,25,30,35,45,50,55,65,70,75],"tickSize":-4.5,"labels":false,"title":null}},"y":{"field":"v","type":"quantitative","scale":{"type":"log","domain":[11,100000],"nice":false},"axis":{"orient":"right","values":[20,30,40,50,60,70,80,90,200,300,400,500,600,700,800,900,2000,3000,4000,5000,6000,7000,8000,9000,20000,30000,40000,50000,60000,70000,80000,90000],"tickSize":-4.5,"labels":false,"title":null}}}},
 {"data":{"name":"rSn"},"mark":{"type":"rule","stroke":"#ff0000","strokeWidth":1},"encoding":{"x":{"field":"Z","type":"quantitative","scale":{"domain":[0,84],"nice":false},"axis":null},"y":{"field":"lo","type":"quantitative","scale":{"type":"log","domain":[11,100000],"nice":false},"axis":null},"y2":{"field":"hi"}}},
 {"data":{"name":"rSn"},"mark":{"type":"point","shape":"square","filled":false,"stroke":"#ff0000","strokeWidth":1,"size":16,"opacity":1},"encoding":{"x":{"field":"Z","type":"quantitative","scale":{"domain":[0,84],"nice":false},"axis":null},"y":{"field":"v","type":"quantitative","scale":{"type":"log","domain":[11,100000],"nice":false},"axis":null}}},
 {"data":{"name":"one"},"mark":{"type":"text","align":"left","baseline":"middle","font":"Liberation Sans","fontSize":17,"color":"black"},"encoding":{"x":{"datum":10,"type":"quantitative","scale":{"domain":[0,84],"nice":false},"axis":null},"y":{"datum":4900,"type":"quantitative","scale":{"type":"log","domain":[11,100000],"nice":false},"axis":null},"text":{"value":"Pb - Sn"}}}
]},
{"width":246,"height":126,"resolve":{"axis":{"x":"independent","y":"independent"}},"layer":[
 {"data":{"name":"yPb"},"mark":{"type":"area","interpolate":"step","fill":"#FCF8C6","clip":true},"encoding":{"x":{"field":"Z","type":"quantitative","scale":{"domain":[0,84],"nice":false},"axis":{"orient":"bottom","values":[0,20,40,60,80],"tickSize":-8,"labelPadding":15,"labelFontSize":16,"title":"Fragment charge Z","titleFontSize":18,"titlePadding":5}},"y":{"field":"v","type":"quantitative","scale":{"type":"log","domain":[6,120000],"nice":false},"axis":{"orient":"left","values":[10,100,1000,10000],"tickSize":-8,"labelPadding":18,"labelFontSize":16,"labelExpr":"datum.value==10?'':datum.value==100?'10²':datum.value==1000?'10³':'10⁴'","title":null}},"y2":{"datum":0.01}}},
 {"data":{"name":"bPb"},"mark":{"type":"area","interpolate":"step","fill":"#4BAAF0","clip":true},"encoding":{"x":{"field":"Z","type":"quantitative","scale":{"domain":[0,84],"nice":false},"axis":{"orient":"top","values":[0,20,40,60,80],"tickSize":-8,"labels":false,"title":null}},"y":{"field":"v","type":"quantitative","scale":{"type":"log","domain":[6,120000],"nice":false},"axis":{"orient":"right","values":[10,100,1000,10000],"tickSize":-8,"labels":false,"title":null}},"y2":{"datum":0.01}}},
 {"data":{"name":"yPb"},"mark":{"type":"line","interpolate":"step","stroke":"black","strokeWidth":1,"clip":true},"encoding":{"x":{"field":"Z","type":"quantitative","scale":{"domain":[0,84],"nice":false},"axis":{"orient":"bottom","values":[5,10,15,25,30,35,45,50,55,65,70,75],"tickSize":-4.5,"labels":false,"title":null}},"y":{"field":"v","type":"quantitative","scale":{"type":"log","domain":[6,120000],"nice":false},"axis":{"orient":"left","values":[7,8,9,20,30,40,50,60,70,80,90,200,300,400,500,600,700,800,900,2000,3000,4000,5000,6000,7000,8000,9000,20000,30000,40000,50000,60000,70000,80000,90000,100000],"tickSize":-4.5,"labels":false,"title":null}}}},
 {"data":{"name":"bPb"},"mark":{"type":"line","interpolate":"step","stroke":"black","strokeWidth":1,"strokeDash":[4,3],"clip":true},"encoding":{"x":{"field":"Z","type":"quantitative","scale":{"domain":[0,84],"nice":false},"axis":{"orient":"top","values":[5,10,15,25,30,35,45,50,55,65,70,75],"tickSize":-4.5,"labels":false,"title":null}},"y":{"field":"v","type":"quantitative","scale":{"type":"log","domain":[6,120000],"nice":false},"axis":{"orient":"right","values":[7,8,9,20,30,40,50,60,70,80,90,200,300,400,500,600,700,800,900,2000,3000,4000,5000,6000,7000,8000,9000,20000,30000,40000,50000,60000,70000,80000,90000,100000],"tickSize":-4.5,"labels":false,"title":null}}}},
 {"data":{"name":"dPb"},"mark":{"type":"point","shape":"circle","filled":true,"fill":"#1c1cff","size":14,"opacity":1,"clip":true},"encoding":{"x":{"field":"Z","type":"quantitative","scale":{"domain":[0,84],"nice":false},"axis":null},"y":{"field":"v","type":"quantitative","scale":{"type":"log","domain":[6,120000],"nice":false},"axis":null}}},
 {"data":{"name":"one"},"mark":{"type":"text","align":"left","baseline":"middle","font":"Liberation Sans","fontSize":17,"color":"black"},"encoding":{"x":{"datum":10,"type":"quantitative","scale":{"domain":[0,84],"nice":false},"axis":null},"y":{"datum":7700,"type":"quantitative","scale":{"type":"log","domain":[6,120000],"nice":false},"axis":null},"text":{"value":"Pb - Pb"}}}
]}
]}
]
}
